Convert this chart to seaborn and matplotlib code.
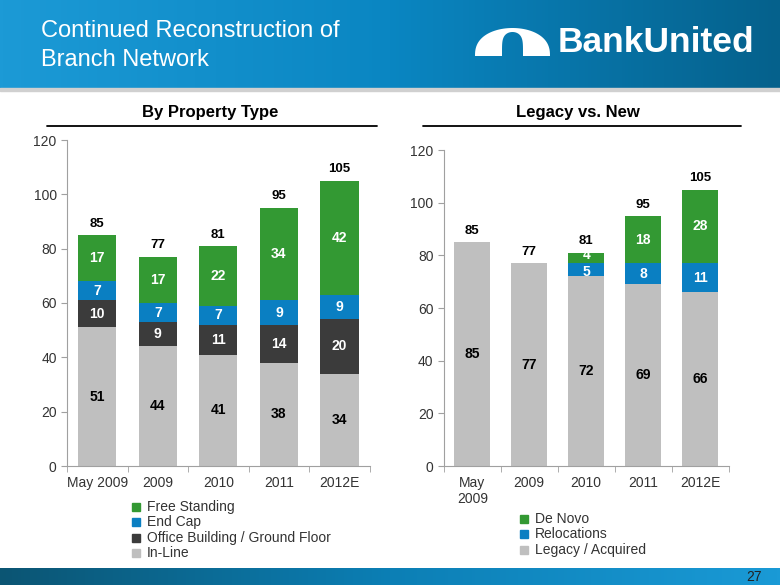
import numpy as np
import pandas as pd
import seaborn as sns
import matplotlib.pyplot as plt
from matplotlib import patches
from matplotlib.colors import LinearSegmentedColormap

# ---- data ----
years = ['May 2009', '2009', '2010', '2011', '2012E']
years_right = ['May\n2009', '2009', '2010', '2011', '2012E']

in_line = [51, 44, 41, 38, 34]
office = [10, 9, 11, 14, 20]
end_cap = [7, 7, 7, 9, 9]
free_standing = [17, 17, 22, 34, 42]

legacy = [85, 77, 72, 69, 66]
relocations = [0, 0, 5, 8, 11]
de_novo = [0, 0, 4, 18, 28]

totals = [85, 77, 81, 95, 105]

GREEN = '#339933'
BLUE = '#0a7fc2'
DARK = '#3b3b3b'
GREY = '#bfbfbf'

sns.set_style('white')
plt.rcParams['font.family'] = ['Liberation Sans', 'DejaVu Sans']

fig = plt.figure(figsize=(7.8, 5.85), dpi=100)

# background canvas in pixel coordinates
bg = fig.add_axes([0, 0, 1, 1])
bg.set_xlim(0, 780)
bg.set_ylim(585, 0)
bg.axis('off')

header_cmap = LinearSegmentedColormap.from_list('hdr', ['#1c9ad6', '#0a86c2', '#05618c'])
bg.imshow(np.linspace(0, 1, 256)[None, :], cmap=header_cmap, aspect='auto',
          extent=(0, 780, 88, 0), zorder=0)
bg.add_patch(patches.Rectangle((0, 88), 780, 3, color='#d0d0d0', zorder=1))
footer_cmap = LinearSegmentedColormap.from_list('ftr', ['#0b5573', '#0c7fb5', '#1a9ad6'])
bg.imshow(np.linspace(0, 1, 256)[None, :], cmap=footer_cmap, aspect='auto',
          extent=(0, 780, 585, 568), zorder=0)

bg.text(41, 31, 'Continued Reconstruction of', color='white', fontsize=17,
        va='center', ha='left')
bg.text(41, 60, 'Branch Network', color='white', fontsize=17,
        va='center', ha='left')
bg.text(754, 43, 'BankUnited', color='white', fontsize=25.5, fontweight='bold',
        va='center', ha='right')

# arch logo: wide hump with a narrow arched opening
t = np.linspace(np.pi, 0, 60)
outer = np.column_stack([512.5 + 37.5 * np.cos(t), 56 - 28 * np.sin(t) ** 0.8])
inner = np.column_stack([512.5 + 10.5 * np.cos(t[::-1]), 56 - 24 * np.sin(t[::-1]) ** 0.4])
bg.add_patch(patches.Polygon(np.vstack([outer, inner]), closed=True,
                             color='white', lw=0))
bg.text(762, 577, '27', color='#222222', fontsize=10, ha='right', va='center')

# section titles with underline
bg.text(210, 112, 'By Property Type', fontsize=12, fontweight='bold',
        ha='center', va='center', color='black')
bg.plot([47, 377], [126, 126], color='black', lw=1.3)
bg.text(578, 112, 'Legacy vs. New', fontsize=12, fontweight='bold',
        ha='center', va='center', color='black')
bg.plot([423, 741], [126, 126], color='black', lw=1.3)


def style_axis(ax, labels):
    ax.set_ylim(0, 120)
    ax.set_yticks(range(0, 121, 20))
    ax.set_xlim(-0.5, len(labels) - 0.5)
    ax.set_xticks(range(len(labels)))
    ax.set_xticklabels(labels)
    ax.set_xlabel('')
    ax.set_ylabel('')
    ax.patch.set_alpha(0)
    for s in ['top', 'right']:
        ax.spines[s].set_visible(False)
    for s in ['left', 'bottom']:
        ax.spines[s].set_color('#a0a0a0')
    ax.tick_params(axis='y', left=True, length=4, color='#a0a0a0',
                   labelsize=10, labelcolor='#333333')
    ax.tick_params(axis='x', bottom=False, labelsize=10, labelcolor='#333333')
    ax.set_xticks(np.arange(-0.5, len(labels), 1), minor=True)
    ax.tick_params(axis='x', which='minor', bottom=True, length=4, color='#a0a0a0')


def stack(ax, cats, layers, nudges=None):
    nudges = nudges or {}
    bottom = np.zeros(len(cats))
    for li, (vals, color, txt) in enumerate(layers):
        df = pd.DataFrame({'cat': cats, 'val': vals})
        sns.barplot(data=df, x='cat', y='val', color=color, bottom=bottom,
                    width=0.63, saturation=1, ax=ax, edgecolor='none')
        for i, v in enumerate(vals):
            if v > 0:
                dy = nudges.get((li, i), 0)
                ax.text(i, bottom[i] + v / 2 + dy, str(v), ha='center', va='center',
                        fontsize=10, fontweight='bold', color=txt)
        bottom = bottom + np.array(vals)
    for i, t in enumerate(totals):
        ax.text(i, t + 2, str(t), ha='center', va='bottom', fontsize=9.5,
                fontweight='bold', color='black')


# ---- left chart ----
ax1 = fig.add_axes([0.086, 1 - 466 / 585, 0.388, (466 - 140) / 585])
stack(ax1, years, [(in_line, GREY, 'black'), (office, DARK, 'white'),
                   (end_cap, BLUE, 'white'), (free_standing, GREEN, 'white')])
style_axis(ax1, years)

# ---- right chart ----
ax2 = fig.add_axes([0.569, 1 - 466 / 585, 0.365, (466 - 150) / 585])
stack(ax2, years_right, [(legacy, GREY, 'black'), (relocations, BLUE, 'white'),
                         (de_novo, GREEN, 'white')],
      nudges={(1, 2): -1.0, (2, 2): 1.2})
style_axis(ax2, years_right)

# ---- legends ----
def legend(x, y0, items):
    for k, (lab, col) in enumerate(items):
        y = y0 + k * 15.3
        bg.add_patch(patches.Rectangle((x - 4, y - 4), 8, 8, color=col))
        bg.text(x + 11, y, lab, fontsize=10, color='#333333', va='center', ha='left')


legend(136, 507, [('Free Standing', GREEN), ('End Cap', BLUE),
                  ('Office Building / Ground Floor', DARK), ('In-Line', GREY)])
legend(524, 519, [('De Novo', GREEN), ('Relocations', BLUE),
                  ('Legacy / Acquired', GREY)])

fig.savefig('out.png', dpi=100)
